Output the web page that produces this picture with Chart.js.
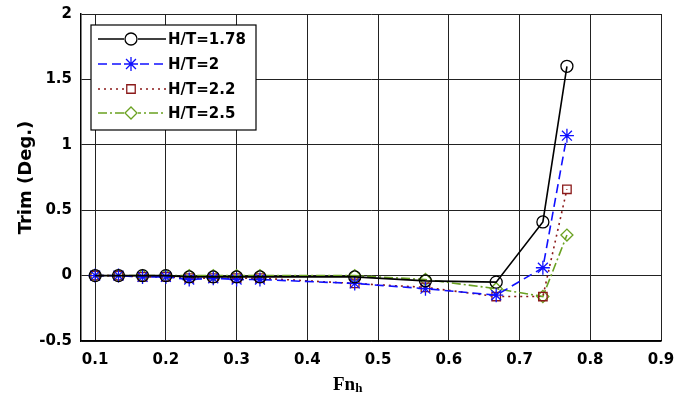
<!DOCTYPE html>
<html>
<head>
<meta charset="utf-8">
<script src="https://cdn.jsdelivr.net/npm/chart.js@4.4.1/dist/chart.umd.min.js"></script>
<style>
  html, body { margin: 0; padding: 0; background: #fff; }
  #wrap { width: 690px; height: 404px; }
</style>
</head>
<body>
<div id="wrap"><canvas id="trimChart" width="690" height="404"></canvas></div>
<script>
// data
const fnValues = [0.1, 0.133, 0.167, 0.2, 0.233, 0.267, 0.3, 0.333, 0.467, 0.567, 0.667, 0.733, 0.767];
const trimHT178 = [0, 0, 0, 0, -0.01, -0.01, -0.01, -0.01, -0.01, -0.04, -0.05, 0.41, 1.6];
const trimHT2 = [0, 0, -0.01, -0.01, -0.03, -0.02, -0.03, -0.03, -0.06, -0.1, -0.15, 0.06, 1.07];
const trimHT22 = [0, 0, -0.01, -0.01, -0.02, -0.02, -0.02, -0.02, -0.06, -0.09, -0.16, -0.16, 0.66];
const trimHT25 = [0, 0, 0, 0, 0, 0, 0, 0, 0, -0.03, -0.1, -0.16, 0.31];
const seriesNames = ["H/T=1.78", "H/T=2", "H/T=2.2", "H/T=2.5"];
const xTicks = [0.1, 0.2, 0.3, 0.4, 0.5, 0.6, 0.7, 0.8, 0.9];
const yTicks = [-0.5, 0, 0.5, 1, 1.5, 2];

const toPoints = (ys) => fnValues.map((x, i) => ({x: x, y: ys[i]}));

const styles = [
    {color: "#000000", dash: [], point: "circle", radius: 6},
    {color: "#1010ff", dash: [9, 5], point: "star", radius: 7},
    {color: "#8b1a1a", dash: [2, 4], point: "rect", radius: 6},
    {color: "#6aa121", dash: [9, 3, 2, 3], point: "rectRot", radius: 6}
];
const allSeries = [trimHT178, trimHT2, trimHT22, trimHT25];

const datasets = allSeries.map((ys, i) => ({
    label: seriesNames[i],
    data: toPoints(ys),
    borderColor: styles[i].color,
    backgroundColor: "rgba(0,0,0,0)",
    borderWidth: 1.6,
    borderDash: styles[i].dash,
    pointStyle: styles[i].point,
    pointRadius: styles[i].radius,
    pointBorderWidth: 1.3,
    pointBorderColor: styles[i].color,
    pointBackgroundColor: "rgba(0,0,0,0)",
    tension: 0
}));

const fontFam = "'DejaVu Sans', 'Liberation Sans', Arial, sans-serif";
const tickFont = {family: fontFam, size: 15, weight: "bold"};

// legend box drawn inside the plot, like the original
const boxLegend = {
    id: "boxLegend",
    afterDatasetsDraw(chart) {
        const ctx = chart.ctx;
        const bx = 91, by = 25, bw = 165, bh = 105;
        ctx.save();
        ctx.fillStyle = "#fff";
        ctx.fillRect(bx, by, bw, bh);
        ctx.strokeStyle = "#000";
        ctx.lineWidth = 1.2;
        ctx.strokeRect(bx, by, bw, bh);
        const rows = [39, 64, 89, 113];
        rows.forEach((ry, i) => {
            const st = styles[i];
            ctx.strokeStyle = st.color;
            ctx.lineWidth = 1.6;
            ctx.setLineDash(st.dash);
            ctx.beginPath();
            ctx.moveTo(98, ry);
            ctx.lineTo(166, ry);
            ctx.stroke();
            ctx.setLineDash([]);
            ctx.fillStyle = "#fff";
            ctx.fillRect(124, ry - 8, 14, 16);
            ctx.lineWidth = 1.3;
            Chart.helpers.drawPoint(ctx, {pointStyle: st.point, radius: st.radius, rotation: 0, borderWidth: 1.3}, 131, ry);
            ctx.fillStyle = "#000";
            ctx.font = "bold 15px " + fontFam;
            ctx.textBaseline = "middle";
            ctx.fillText(seriesNames[i], 168, ry + 1);
        });
        ctx.restore();
    }
};

// x title with subscript h
const xTitle = {
    id: "xTitle",
    afterDraw(chart) {
        const ctx = chart.ctx;
        ctx.save();
        ctx.fillStyle = "#000";
        ctx.textBaseline = "alphabetic";
        ctx.font = "bold 19px 'Liberation Serif', 'Times New Roman', serif";
        const w = ctx.measureText("Fn").width;
        ctx.fillText("Fn", 333, 390);
        ctx.font = "bold 13px 'Liberation Serif', 'Times New Roman', serif";
        ctx.fillText("h", 333 + w, 392);
        ctx.restore();
    }
};

new Chart(document.getElementById("trimChart"), {
    type: "line",
    data: {datasets: datasets},
    plugins: [boxLegend, xTitle],
    options: {
        responsive: false,
        animation: false,
        layout: {padding: {top: 14, right: 29, bottom: 0, left: 0}},
        plugins: {legend: {display: false}, tooltip: {enabled: false}},
        scales: {
            x: {
                type: "linear",
                min: 0.08,
                max: 0.9,
                afterBuildTicks: (s) => { s.ticks = xTicks.map(v => ({value: v})); },
                afterFit: (s) => { s.height = 63; s.paddingLeft = 0; s.paddingRight = 0; },
                ticks: {
                    color: "#000",
                    font: tickFont,
                    padding: 10,
                    maxRotation: 0,
                    callback: (v) => v.toFixed(1)
                },
                grid: {color: "#222", lineWidth: 1, drawTicks: false},
                border: {color: "#000", width: 1.5}
            },
            y: {
                min: -0.5,
                max: 2,
                afterBuildTicks: (s) => { s.ticks = yTicks.map(v => ({value: v})); },
                afterFit: (s) => { s.width = 81; s.paddingTop = 0; s.paddingBottom = 0; },
                ticks: {
                    color: "#000",
                    font: tickFont,
                    padding: 9,
                    callback: (v) => String(v)
                },
                title: {
                    display: true,
                    text: "Trim (Deg.)",
                    color: "#000",
                    font: {family: fontFam, size: 18, weight: "bold"},
                    padding: {top: 16, bottom: 0}
                },
                grid: {color: "#222", lineWidth: 1, drawTicks: false},
                border: {color: "#000", width: 1.5}
            }
        }
    }
});
</script>
</body>
</html>
